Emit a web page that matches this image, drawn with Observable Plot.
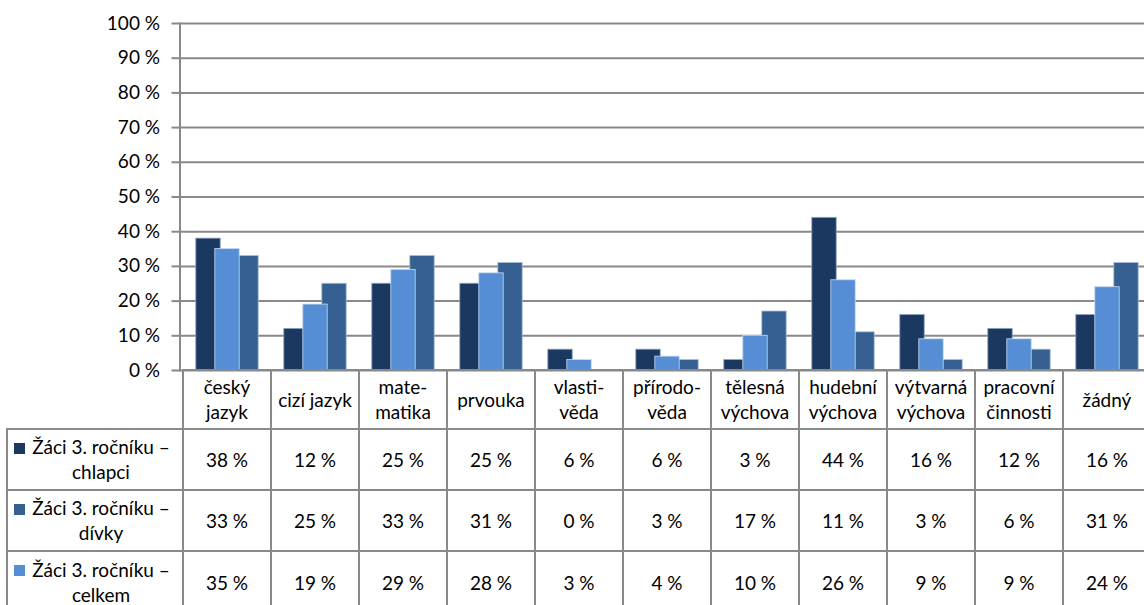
<!DOCTYPE html>
<html>
<head>
<meta charset="utf-8">
<script src="https://cdn.jsdelivr.net/npm/d3@7"></script>
<script src="https://cdn.jsdelivr.net/npm/@observablehq/plot@0.6"></script>
<style>
  html, body { margin: 0; padding: 0; background: #fff; overflow: hidden; }
  #wrap { position: relative; width: 1154px; height: 605px; font-family: Lato, "Open Sans", sans-serif; font-size: 19px; color: #000; }
  #wrap svg { position: absolute; left: 0; top: 0; }
  .cell { position: absolute; box-sizing: border-box; border: 2px solid #898989; display: flex; align-items: center; justify-content: center; text-align: center; line-height: 25px; }
  .rowlab { justify-content: flex-start; align-items: center; }
  .key { width: 11px; height: 11px; margin-left: 6px; margin-right: 5px; align-self: flex-start; margin-top: 13px; flex: none; }
  .labtext { width: 142px; text-align: center; }
</style>
</head>
<body>
<div id="wrap"></div>
<script>
const categories = ["český\njazyk", "cizí jazyk", "mate-\nmatika", "prvouka", "vlasti-\nvěda", "přírodo-\nvěda", "tělesná\nvýchova", "hudební\nvýchova", "výtvarná\nvýchova", "pracovní\nčinnosti", "žádný"];
const chlapci = [38, 12, 25, 25, 6, 6, 3, 44, 16, 12, 16];
const divky   = [33, 25, 33, 31, 0, 3, 17, 11, 3, 6, 31];
const celkem  = [35, 19, 29, 28, 3, 4, 10, 26, 9, 9, 24];
const seriesNames = ["Žáci 3. ročníku –\nchlapci", "Žáci 3. ročníku –\ndívky", "Žáci 3. ročníku –\ncelkem"];
const seriesColors = ["#1b3861", "#376092", "#558ed5"];
const yTicks = [0, 10, 20, 30, 40, 50, 60, 70, 80, 90, 100];

const tableSeries = [chlapci, divky, celkem];
const rowsOf = (vals) => categories.map((c, i) => ({category: c, value: vals[i]}));

const W = 1154;
const mLeft = 179.5;
const barW = 25, step = 19;
const bandW = (W - mLeft) / categories.length;
const inset = (bandW - barW) / 2;

const chart = Plot.plot({
  width: W,
  height: 372,
  marginTop: 23,
  marginBottom: 2,
  marginLeft: mLeft,
  marginRight: 0,
  style: {fontFamily: "Lato, sans-serif", fontSize: "19px", color: "#000", background: "transparent", overflow: "visible"},
  x: {domain: categories, padding: 0, axis: null},
  y: {domain: [0, 100], axis: null},
  marks: [
    Plot.ruleY(yTicks.filter(d => d > 0), {stroke: "#898989", strokeWidth: 2, strokeOpacity: 1}),
    Plot.axisY({ticks: yTicks, label: null, tickSize: 8, tickPadding: 12, tickFormat: d => d + " %", stroke: "#898989", strokeWidth: 2, strokeOpacity: 1, fill: "#000"}),
    Plot.barY(rowsOf(chlapci), {x: "category", y: "value", fill: seriesColors[0], dx: -step, insetLeft: inset, insetRight: inset, stroke: "#8fa5c2", strokeWidth: 0.8}),
    Plot.barY(rowsOf(divky), {x: "category", y: "value", fill: seriesColors[1], dx: step, insetLeft: inset, insetRight: inset, stroke: "#a9bfdb", strokeWidth: 0.8}),
    Plot.barY(rowsOf(celkem), {x: "category", y: "value", fill: seriesColors[2], insetLeft: inset, insetRight: inset, stroke: "#c5d9f1", strokeWidth: 0.8}),
    Plot.frame({anchor: "left", stroke: "#898989", strokeWidth: 2}),
    Plot.ruleY([0], {stroke: "#898989", strokeWidth: 2})
  ]
});

const wrap = document.getElementById("wrap");
wrap.appendChild(chart);
const xs = chart.scale("x");
const bw = xs.bandwidth;

// Data table below the chart, aligned to the x scale
const rowY = [370, 428.5, 489.5, 551, 613];
const tableLeft = 7;
function addCell(x0, x1, y0, y1, html, cls) {
  const d = document.createElement("div");
  d.className = "cell" + (cls ? " " + cls : "");
  d.style.left = (x0 - 1) + "px";
  d.style.top = (y0 - 1) + "px";
  d.style.width = (x1 - x0 + 2) + "px";
  d.style.height = (y1 - y0 + 2) + "px";
  d.innerHTML = html;
  wrap.appendChild(d);
  return d;
}
const esc = s => s.replace(/&/g, "&amp;").replace(/</g, "&lt;").replace(/\n/g, "<br>");
categories.forEach(c => {
  const x0 = xs.apply(c);
  addCell(x0, x0 + bw, rowY[0], rowY[1], esc(c));
});
tableSeries.forEach((vals, r) => {
  addCell(tableLeft, xs.apply(categories[0]), rowY[r + 1], rowY[r + 2],
    `<span class="key" style="background:${seriesColors[r]}"></span><span class="labtext">${esc(seriesNames[r])}</span>`, "rowlab");
  categories.forEach((c, i) => {
    const x0 = xs.apply(c);
    addCell(x0, x0 + bw, rowY[r + 1], rowY[r + 2], vals[i] + " %");
  });
});
</script>
</body>
</html>
